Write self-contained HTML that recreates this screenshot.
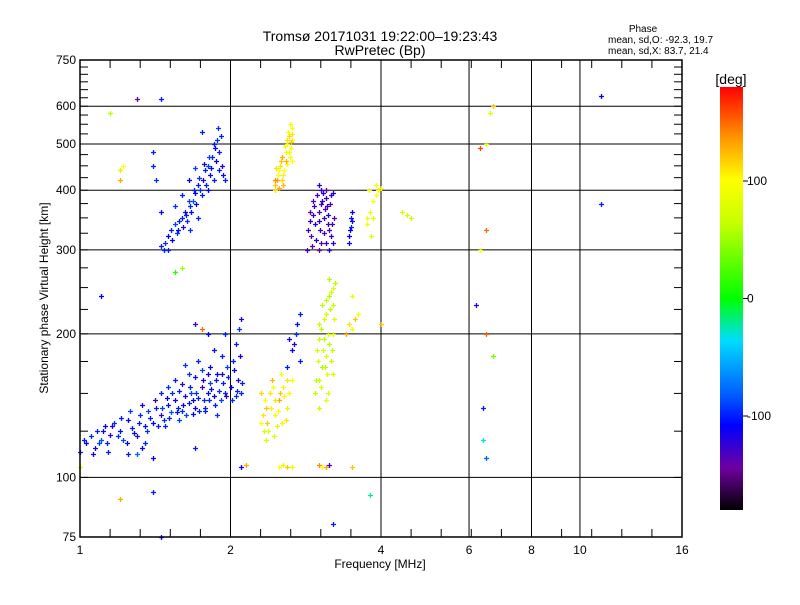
<!DOCTYPE html>
<html><head><meta charset="utf-8">
<style>
body{margin:0;background:#fff;width:800px;height:600px;overflow:hidden;font-family:"Liberation Sans",sans-serif;}
svg text{font-family:"Liberation Sans",sans-serif;fill:#000;}
</style></head>
<body>
<svg id="chart" width="800" height="600" xmlns="http://www.w3.org/2000/svg">
<defs>
<linearGradient id="cmap" x1="0" y1="1" x2="0" y2="0">
<stop offset="0" stop-color="#000"/><stop offset="0.1" stop-color="#6e00a0"/>
<stop offset="0.2" stop-color="#0000ff"/><stop offset="0.27" stop-color="#005aff"/>
<stop offset="0.4" stop-color="#00dcff"/><stop offset="0.5" stop-color="#00ff00"/>
<stop offset="0.68" stop-color="#c8ff00"/><stop offset="0.78" stop-color="#ffff00"/>
<stop offset="0.88" stop-color="#ff9600"/><stop offset="1" stop-color="#ff0000"/>
</linearGradient>
</defs>
<text x="380" y="41" font-size="14" text-anchor="middle">Tromsø 20171031 19:22:00–19:23:43</text>
<text x="380" y="55" font-size="14" text-anchor="middle">RwPretec (Bp)</text>
<text x="643" y="32" font-size="10" text-anchor="middle">Phase</text>
<text x="608" y="43" font-size="10">mean, sd,O: -92.3, 19.7</text>
<text x="608" y="54" font-size="10">mean, sd,X:  83.7, 21.4</text>
<g id="grid"></g>
<g id="marks"></g>
<g id="axes"></g>
<text x="380" y="568" font-size="12" text-anchor="middle">Frequency [MHz]</text>
<text x="48" y="298" font-size="12" text-anchor="middle" transform="rotate(-90 48 298)">Stationary phase Virtual Height [km]</text>
<rect x="720" y="87" width="23" height="423" fill="url(#cmap)"/>
<text x="731" y="84" font-size="14" text-anchor="middle">[deg]</text>
<g id="cbticks"></g>
</svg>
<script>
const xTicks=[1,2,4,6,8,10,16];
const yTicks=[75,100,200,300,400,500,600,750];
const xGrid=[2,4,6,8,10];
const yGrid=[100,200,300,400,500,600];
const cbTicks=[100,0,-100];
const oLow=[[1.0,113,-100],[1.03,118,-110],[1.05,122,-95],[1.07,115,-120],[1.08,125,-100],[1.1,120,-85],[1.12,128,-110],[1.13,118,-100],[1.15,123,-125],[1.17,130,-95],[1.2,125,-105],[1.22,120,-90],[1.25,132,-110],[1.27,127,-100],[1.3,122,-120],[1.32,135,-95],[1.35,128,-105],[1.37,138,-90],[1.4,130,-110],[1.42,140,-100],[1.45,135,-125],[1.47,132,-95],[1.5,142,-105],[1.52,137,-85],[1.55,145,-115],[1.57,140,-100],[1.6,138,-95],[1.62,148,-120],[1.65,143,-100],[1.67,150,-90],[1.7,140,-110],[1.72,147,-100],[1.75,155,-130],[1.77,145,-95],[1.8,150,-105],[1.82,158,-90],[1.85,148,-115],[1.87,160,-100],[1.9,152,-95],[1.92,165,-120],[1.95,150,-100],[1.97,170,-90],[2.0,155,-110],[2.02,175,-100],[2.05,148,-95],[2.07,160,-120],[2.1,150,-100],[1.55,160,-100],[1.6,157,-125],[1.65,165,-95],[1.7,162,-105],[1.75,168,-90],[1.8,165,-110],[1.45,150,-100],[1.5,155,-95],[1.3,112,-80],[1.35,118,-100],[1.4,110,-110],[2.05,190,-100],[2.08,205,-95],[2.1,215,-120],[1.95,200,-100],[1.85,185,-105]];
const oLow2=[[1.02,120,-100],[1.06,112,-115],[1.09,118,-90],[1.11,125,-105],[1.14,113,-100],[1.16,128,-120],[1.19,122,-95],[1.21,133,-100],[1.24,118,-110],[1.26,138,-90],[1.28,124,-105],[1.31,130,-100],[1.33,142,-115],[1.36,125,-95],[1.38,133,-100],[1.41,145,-125],[1.43,128,-100],[1.46,140,-90],[1.49,147,-110],[1.51,133,-100],[1.53,150,-95],[1.56,137,-105],[1.58,152,-100],[1.61,142,-115],[1.63,135,-90],[1.66,155,-100],[1.68,145,-110],[1.71,150,-95],[1.73,138,-100],[1.76,160,-120],[1.78,140,-100],[1.81,145,-95],[1.83,153,-105],[1.86,142,-100],[1.88,165,-110],[1.91,145,-90],[1.93,158,-100],[1.96,148,-125],[1.98,162,-100],[2.01,145,-95],[2.03,168,-105],[2.06,152,-100],[2.09,180,-115],[2.11,158,-100],[1.48,128,-100],[1.58,132,-90],[1.68,136,-110],[1.78,138,-100],[1.88,135,-95],[1.25,112,-100],[1.33,115,-110],[1.62,172,-95],[1.72,175,-100],[1.82,170,-110],[1.92,180,-100]];
const oHigh=[[1.45,305,-100],[1.48,310,-95],[1.5,320,-110],[1.52,330,-100],[1.55,340,-90],[1.57,330,-105],[1.6,350,-100],[1.62,360,-115],[1.64,345,-95],[1.66,370,-100],[1.68,380,-85],[1.7,395,-110],[1.72,410,-100],[1.74,400,-95],[1.76,420,-120],[1.78,440,-100],[1.8,450,-90],[1.82,430,-105],[1.84,470,-100],[1.86,490,-110],[1.88,510,-95],[1.9,480,-100],[1.75,530,-100],[1.92,450,-120],[1.95,420,-100],[1.55,370,-95],[1.6,390,-100],[1.65,420,-110],[1.7,445,-90],[1.4,450,-100],[1.42,420,-95],[1.4,480,-100],[1.45,360,-105],[1.5,300,-100]];
const oHigh2=[[1.47,300,-100],[1.53,315,-110],[1.56,325,-95],[1.58,345,-100],[1.61,335,-120],[1.63,355,-100],[1.65,380,-90],[1.67,360,-105],[1.69,400,-100],[1.71,375,-110],[1.73,425,-95],[1.75,390,-100],[1.77,455,-115],[1.79,410,-100],[1.81,470,-90],[1.83,445,-105],[1.85,500,-100],[1.87,460,-110],[1.89,540,-95],[1.91,520,-100],[1.93,430,-105],[1.72,350,-100],[1.66,330,-95],[1.8,400,-110],[1.85,420,-100],[1.9,440,-100]];
const xHigh=[[2.45,400,110],[2.48,420,130],[2.5,440,100],[2.52,460,120],[2.55,430,105],[2.58,480,95],[2.6,500,100],[2.62,520,115],[2.63,470,90],[2.65,540,100],[2.55,410,125],[2.47,445,110],[2.6,455,100],[2.64,490,95],[2.66,510,105],[2.5,405,130],[2.46,410,120],[2.49,430,100],[2.51,450,110],[2.53,470,130],[2.56,440,100],[2.57,495,90],[2.59,510,110],[2.61,530,100],[2.63,550,95],[2.64,505,120],[2.45,420,140],[2.54,420,115],[2.62,480,105],[2.66,460,100],[2.58,460,125],[2.65,525,110]];
const oMid=[[2.85,300,-130],[2.9,320,-140],[2.95,340,-120],[3.0,360,-135],[3.05,380,-125],[3.1,400,-140],[3.15,330,-130],[3.2,310,-120],[2.92,380,-135],[3.0,300,-145],[3.08,350,-125],[3.12,370,-130],[3.18,390,-120],[2.88,360,-140],[3.02,330,-130],[3.15,300,-125],[3.22,350,-135],[3.0,410,-120],[3.1,310,-130],[3.45,320,-110],[3.48,335,-100],[3.5,345,-120],[3.45,310,-105],[3.5,360,-115],[2.86,330,-130],[2.89,345,-125],[2.91,305,-140],[2.94,370,-130],[2.96,315,-120],[2.98,390,-135],[3.01,345,-125],[3.03,375,-130],[3.04,310,-140],[3.06,395,-120],[3.07,325,-130],[3.09,365,-135],[3.11,385,-125],[3.13,340,-130],[3.14,355,-120],[3.16,375,-135],[3.17,320,-125],[3.19,340,-130],[3.21,395,-120],[2.93,355,-130],[3.03,400,-125],[3.46,330,-110],[3.49,350,-100]];
const xMid=[[3.75,340,95],[3.8,360,90],[3.85,380,100],[3.78,400,85],[3.9,410,95],[3.82,320,80],[3.95,400,105],[4.0,405,100],[4.4,360,70],[4.6,350,65],[4.5,355,75],[3.75,350,90],[3.85,350,85],[3.9,390,100]];
const xLow=[[2.95,150,60],[3.0,160,70],[3.05,170,55],[3.1,180,75],[3.15,190,60],[3.2,200,80],[3.0,210,65],[3.1,220,70],[3.15,240,55],[3.2,250,75],[3.05,230,60],[3.12,165,80],[3.18,175,65],[2.98,185,70],[3.08,195,60],[3.22,215,75],[3.1,145,85],[3.0,140,70],[3.15,260,55],[3.2,230,65],[2.3,130,100],[2.35,140,120],[2.4,150,110],[2.45,135,95],[2.5,145,130],[2.55,155,105],[2.6,140,80],[2.65,160,100],[2.38,125,85],[2.48,128,75],[2.58,132,110],[2.42,160,125],[2.52,165,100],[2.36,120,70],[2.3,150,115],[3.45,210,110],[3.5,205,95],[3.55,215,120],[3.6,220,100],[3.5,240,90],[3.4,200,130]];
const xLow2=[[2.96,160,60],[2.99,175,70],[3.01,195,65],[3.03,155,75],[3.04,205,60],[3.06,185,70],[3.07,215,80],[3.09,170,60],[3.11,235,65],[3.13,200,70],[3.14,150,75],[3.16,225,60],[3.17,245,70],[3.19,185,65],[3.21,165,75],[3.23,255,60],[2.32,135,110],[2.34,145,100],[2.37,130,120],[2.41,140,105],[2.43,155,95],[2.46,145,110],[2.49,138,100],[2.51,150,120],[2.53,130,90],[2.56,148,105],[2.59,160,110],[2.62,150,95],[2.33,125,80],[2.44,122,75]];
const oMid2=[[2.6,170,-100],[2.65,185,-110],[2.7,200,-95],[2.72,210,-105],[2.68,190,-120],[2.75,175,-100],[2.62,195,-110],[2.75,220,-100]];
const row105=[[2.1,105,-120],[2.15,106,130],[2.5,105,100],[2.55,106,80],[2.6,105,120],[2.65,105,90],[3.0,106,140],[3.05,105,100],[3.1,105,130],[3.15,106,-130],[3.5,105,120]];
const scatter=[[1.3,620,-140],[1.45,620,-100],[1.15,580,60],[1.2,420,130],[1.2,440,110],[1.22,450,100],[1.1,240,-110],[1.55,270,10],[1.6,275,50],[1.7,210,-130],[1.75,205,150],[1.8,200,-110],[6.3,490,160],[6.5,500,90],[6.6,580,80],[6.7,600,120],[6.5,330,150],[6.3,300,100],[6.7,180,40],[6.4,140,-100],[6.5,110,-80],[6.4,120,-30],[6.2,230,-120],[6.5,200,150],[11,630,-110],[11,375,-100],[1.2,90,130],[1.4,93,-100],[1.45,75,-110],[3.2,80,-100],[3.8,92,-20],[4.0,210,120],[1.0,105,80],[1.7,115,-100]];
const series=[oLow,oLow2,oHigh,oHigh2,xHigh,oMid,xMid,xLow,xLow2,oMid2,row105,scatter];
const X0=80,X1=682,Y0=537,Y1=60;
const xs=f=>X0+Math.log2(f)/4*(X1-X0);
const ys=h=>Y0-Math.log10(h/75)*(Y0-Y1);
const cbY=v=>510-(v+180)/360*423;
const stops=[[0,0,0,0],[.1,110,0,160],[.2,0,0,255],[.27,0,90,255],[.4,0,220,255],[.5,0,255,0],[.68,200,255,0],[.78,255,255,0],[.88,255,150,0],[1,255,0,0]];
function cmap(v){let t=Math.max(0,Math.min(1,(v+180)/360));for(let i=1;i<stops.length;i++){if(t<=stops[i][0]){const a=stops[i-1],b=stops[i],u=(t-a[0])/(b[0]-a[0]);return `rgb(${[1,2,3].map(k=>Math.round(a[k]+u*(b[k]-a[k]))).join(',')})`;}}return 'rgb(255,0,0)';}
const NS='http://www.w3.org/2000/svg';
function mk(tag,attrs,parent){const e=document.createElementNS(NS,tag);for(const k in attrs)e.setAttribute(k,attrs[k]);parent.appendChild(e);return e;}
const grid=document.getElementById('grid'),axes=document.getElementById('axes'),marks=document.getElementById('marks'),cbt=document.getElementById('cbticks');
xGrid.forEach(f=>{const l=mk('line',{x1:xs(f),x2:xs(f),y1:Y1,y2:Y0,stroke:'#000','stroke-width':1},grid);

});
yGrid.forEach(h=>{const l=mk('line',{x1:X0,x2:X1,y1:ys(h),y2:ys(h),stroke:'#000','stroke-width':1},grid);

});
series.forEach(s=>s.forEach(p=>{const x=Math.round(xs(p[0])),y=Math.round(ys(p[1])),c=cmap(p[2]);
const g=mk('path',{d:`M${x-2} ${y+0.5}h5M${x+0.5} ${y-2}v5`,stroke:c,'stroke-width':1.3,fill:'none'},marks);

}));
const fr=mk('rect',{x:X0,y:Y1,width:X1-X0,height:Y0-Y1,fill:'none',stroke:'#000','stroke-width':1.5},axes);


for(let k=1;k<20;k++){const x=X0+k*(X1-X0)/20;mk('line',{x1:x,x2:x,y1:Y1,y2:Y1+8,stroke:'#000'},axes);mk('line',{x1:x,x2:x,y1:Y0,y2:Y0-8,stroke:'#000'},axes);}
for(let h=100;h<750;h+=25){const y=ys(h);mk('line',{x1:X0,x2:X0+8,y1:y,y2:y,stroke:'#000'},axes);mk('line',{x1:X1,x2:X1-8,y1:y,y2:y,stroke:'#000'},axes);}
xTicks.forEach(f=>{const t=mk('text',{x:xs(f),y:554,'font-size':12,'text-anchor':'middle'},axes);t.textContent=f;

});
yTicks.forEach(h=>{const t=mk('text',{x:76,y:ys(h)+4,'font-size':12,'text-anchor':'end'},axes);t.textContent=h;

});
cbTicks.forEach(v=>{const y=cbY(v);mk('line',{x1:743,x2:748,y1:y,y2:y,stroke:'#000'},cbt);
const t=mk('text',{x:747,y:y+4,'font-size':12},cbt);t.textContent=v;

});
</script>
</body></html>
